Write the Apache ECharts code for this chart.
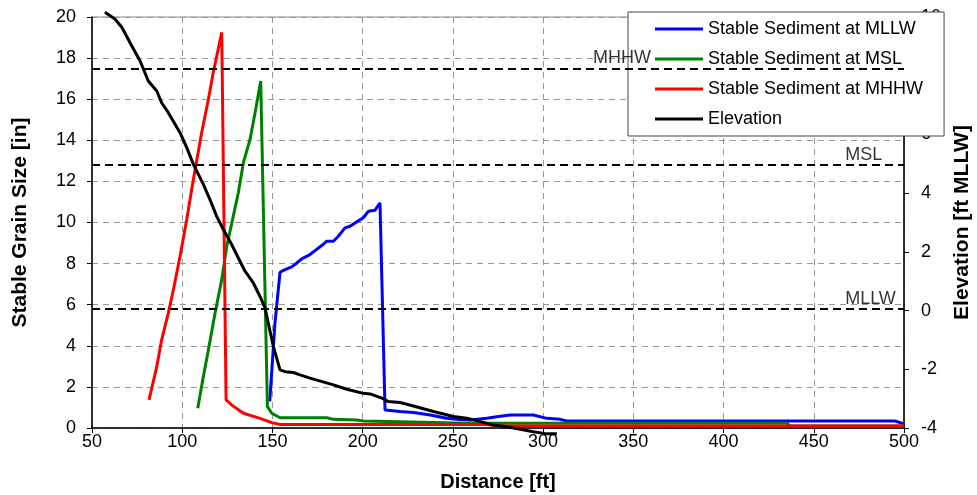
<!DOCTYPE html>
<html><head><meta charset="utf-8">
<script src="https://cdn.jsdelivr.net/npm/echarts@6/dist/echarts.min.js"></script>
<style>html,body{margin:0;padding:0;background:#fff}#c{width:977px;height:495px}</style>
</head><body><div id="c"></div>
<script>
const xTicks = [50,100,150,200,250,300,350,400,450,500];
const seriesNames = ['Stable Sediment at MLLW','Stable Sediment at MSL','Stable Sediment at MHHW','Elevation'];

const mllwX = [148.5,151.4,154.2,157.0,160.7,163.5,166.2,170.8,173.6,177.3,180.1,183.8,186.5,190.2,193.0,196.7,200.4,203.2,206.9,209.6,212.4,220.7,228.1,237.4,246.6,252.1,259.5,268.8,274.3,281.7,294.6,302.0,309.4,313.1,495,500];
const mllwY = [1.3,5.1,7.58,7.71,7.84,8.03,8.23,8.44,8.63,8.88,9.09,9.09,9.33,9.74,9.82,10.03,10.23,10.55,10.60,10.96,0.88,0.80,0.75,0.63,0.47,0.42,0.39,0.47,0.55,0.63,0.63,0.47,0.42,0.34,0.34,0.2];

const mslX = [108.6,111.7,114.5,118.2,121.9,124.7,128.3,131.1,133.9,137.6,140.4,143.5,147.2,149.6,154.2,180.1,183.8,196.7,200.4,220.7,257.7,435,437,500];
const mslY = [0.96,2.50,3.80,5.59,7.22,8.85,10.31,11.45,12.91,14.05,15.35,16.89,1.04,0.72,0.50,0.50,0.42,0.39,0.34,0.31,0.23,0.23,0.1,0.1];

const mhhwX = [81.6,85.9,88.6,92.3,95.1,98.8,102.5,106.2,110.8,114.5,117.2,121.9,124.3,127.4,133.9,143.1,149.6,154.2,268.8,275,500];
const mhhwY = [1.37,2.99,4.29,5.59,6.73,8.36,10.15,12.10,14.38,16.0,17.30,19.25,1.37,1.12,0.72,0.47,0.26,0.17,0.17,0.1,0.1];

const elevX = [57.2,62.7,66.5,72.0,76.6,81.2,85.9,88.6,92.3,98.8,102.5,106.2,111.7,115.4,119.1,122.8,127.4,131.1,134.8,139.4,143.1,145.9,147.7,150.5,154.2,157.0,161.6,165.3,170.8,183.8,191.2,200.4,204.1,210.6,214.2,220.7,228.1,239.2,250.3,257.7,263.2,272.4,279.9,287.3,294.6,302.0,307.6];
const elevY = [10.16,9.93,9.65,9.02,8.51,7.82,7.48,7.08,6.74,6.06,5.55,4.98,4.30,3.78,3.21,2.76,2.25,1.79,1.34,0.94,0.48,0.09,-0.43,-1.22,-2.02,-2.08,-2.11,-2.19,-2.30,-2.53,-2.68,-2.82,-2.84,-2.98,-3.10,-3.13,-3.25,-3.44,-3.61,-3.67,-3.75,-3.90,-3.96,-4.04,-4.13,-4.20,-4.20];

const levelNames = ['MHHW','MSL','MLLW'];
const levelValues = [17.5, 12.8, 5.8];
const levelLabelX = [327.7, 467.4, 467.4];

const colors = ['#0000FF','#008000','#FF0000','#000000'];
const FONT = "'Liberation Sans', Arial, sans-serif";
const zip = (xs, ys) => xs.map((x, i) => [x, ys[i]]);

const chart = echarts.init(document.getElementById('c'));
const lineSeries = (name, data, color, yIdx, clip) => ({
  name, type: 'line', data, yAxisIndex: yIdx, symbol: 'none', clip: clip,
  lineStyle: { color, width: 3 }, itemStyle: { color }, z: 3, animation: false
});

chart.setOption({
  animation: false,
  textStyle: { fontFamily: FONT },
  grid: { left: 92, right: 73, top: 17, bottom: 67, containLabel: false, outerBoundsMode: 'none',
          show: true, borderColor: '#888', borderWidth: 1, backgroundColor: 'transparent' },
  legend: {
    orient: 'vertical', left: 628, top: 12,
    padding: [8, 21, 8, 27], itemGap: 12,
    itemWidth: 48, itemHeight: 3, icon: 'rect',
    backgroundColor: '#fff', borderColor: '#444', borderWidth: 1, borderRadius: 0,
    textStyle: { fontSize: 18, color: '#000', fontFamily: FONT, padding: [0,0,0,0] },
    data: seriesNames, z: 4
  },
  xAxis: {
    type: 'value', min: 50, max: 500, interval: 50,
    name: 'Distance [ft]', nameLocation: 'middle', nameGap: 44,
    nameTextStyle: { fontSize: 20, fontWeight: 'bold', color: '#000', fontFamily: FONT },
    axisLine: { lineStyle: { color: '#000', width: 1.5 } },
    axisTick: { show: true, length: 5, lineStyle: { color: '#000' } },
    axisLabel: { fontSize: 18, color: '#000', margin: 5, fontFamily: FONT },
    splitLine: { show: true, lineStyle: { color: '#999', type: [6, 5], width: 1 } }
  },
  yAxis: [{
    type: 'value', min: 0, max: 20, interval: 2, position: 'left',
    name: 'Stable Grain Size [in]', nameLocation: 'middle', nameGap: 61, nameRotate: 90,
    nameTextStyle: { fontSize: 21, fontWeight: 'bold', color: '#000', fontFamily: FONT },
    axisLine: { show: true, lineStyle: { color: '#000', width: 1.5 } },
    axisTick: { show: true, length: 5, lineStyle: { color: '#000' } },
    axisLabel: { fontSize: 18, color: '#000', margin: 16, fontFamily: FONT },
    splitLine: { show: true, lineStyle: { color: '#999', type: [6, 5], width: 1 } }
  }, {
    type: 'value', min: -4, max: 10, interval: 2, position: 'right',
    name: 'Elevation [ft MLLW]', nameLocation: 'middle', nameGap: 44, nameRotate: 90,
    nameTextStyle: { fontSize: 21, fontWeight: 'bold', color: '#000', fontFamily: FONT },
    axisLine: { show: true, lineStyle: { color: '#000', width: 1.5 } },
    axisTick: { show: true, length: 5, lineStyle: { color: '#000' } },
    axisLabel: { fontSize: 18, color: '#000', margin: 17, fontFamily: FONT },
    splitLine: { show: false }
  }],
  series: [
    lineSeries(seriesNames[0], zip(mllwX, mllwY), colors[0], 0, true),
    lineSeries(seriesNames[1], zip(mslX, mslY), colors[1], 0, true),
    lineSeries(seriesNames[2], zip(mhhwX, mhhwY), colors[2], 0, true),
    lineSeries(seriesNames[3], zip(elevX, elevY), colors[3], 1, false),
    {
      name: 'levels', type: 'line', data: [], yAxisIndex: 0, z: 2,
      markLine: {
        symbol: ['none','none'], silent: true, animation: false,
        lineStyle: { color: '#000', type: [8, 5], width: 2 },
        label: { show: false },
        data: levelValues.map(v => ({ yAxis: v }))
      }
    },
    {
      name: 'levelLabels', type: 'scatter', yAxisIndex: 0, z: 10, symbolSize: 0, silent: true,
      data: levelValues.map((v, i) => ({ value: [levelLabelX[i], v], name: levelNames[i] })),
      label: {
        show: true, position: [0, -1], align: 'left', verticalAlign: 'bottom',
        formatter: p => p.name, fontSize: 18, color: '#000', fontFamily: FONT
      }
    }
  ]
});
</script></body></html>
